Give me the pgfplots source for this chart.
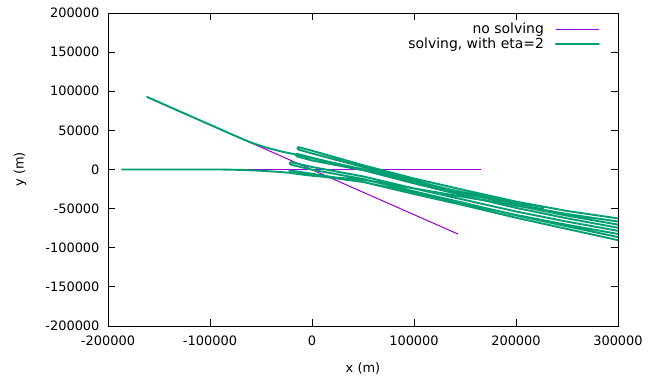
\documentclass[border=0pt]{standalone}
\usepackage{pgfplots}
\pgfplotsset{compat=1.18}
\usepackage{fontspec}
\setmainfont{DejaVu Sans}
\definecolor{gpPurple}{HTML}{9400D3}
\definecolor{gpGreen}{HTML}{009E73}
\begin{document}
\begin{tikzpicture}[font=\fontsize{13}{15}\selectfont]
\begin{axis}[
  name=ax,
  scale only axis,
  width=510bp, height=313bp,
  xmin=-200000, xmax=300000,
  ymin=-200000, ymax=200000,
  xtick={-200000,-100000,0,100000,200000,300000},
  xticklabels={-200000,-100000,0,100000,200000,300000},
  ytick={-200000,-150000,-100000,-50000,0,50000,100000,150000,200000},
  yticklabels={-200000,-150000,-100000,-50000,0,50000,100000,150000,200000},
  xticklabel style={yshift=-6bp},
  yticklabel style={xshift=-5bp},
  scaled ticks=false,
  tick align=inside,
  major tick length=7bp,
  tick style={black, line width=0.8bp},
  axis line style={black, line width=0.9bp},
  xlabel={x (m)},
  ylabel={y (m)},
  xlabel style={at={(axis description cs:0.5,-0.134)}, anchor=center},
  ylabel style={at={(axis description cs:-0.1725,0.5)}, anchor=center},
  legend plot pos=right,
  legend cell align=right,
  legend image code/.code={\draw[#1] (0bp,0bp) -- (43bp,0bp);},
  legend style={draw=none, fill=none, at={(axis description cs:1,1)}, anchor=north east, xshift=-18bp, yshift=-8bp, inner sep=0pt, row sep=-1bp, font=\fontsize{14}{16}\selectfont},
]
% no solving
\addplot[gpPurple, line width=1bp] coordinates {(-186300,0) (165700,0)};
\addlegendentry{no solving\rule{9bp}{0pt}}
\addplot[gpPurple, line width=1bp, forget plot] coordinates {(-161800,92700) (143100,-82500)};
% solving, object A
\addplot[gpGreen, line width=1.9bp, line join=round, line cap=round] coordinates {
(-161800,92700) (-120000,68700) (-80000,45700) (-60000,34500) (-45000,28000) (-30000,23000) (-15000,18900)
(0,14720) (50000,128) (100000,-15802) (150000,-30917) (200000,-45070) (250000,-56903) (300000,-66475)
(325000,-71000)
(300000,-62500) (250000,-53000) (200000,-41000) (150000,-26500) (100000,-11500) (50000,5500) (0,24000)
(-11000,27850) (-13400,28600) (-14400,27100) (-13400,25600) (-11000,24600)
(0,20480) (50000,3157) (100000,-14211) (150000,-30539) (200000,-45819) (250000,-58981) (300000,-70451)
(325000,-77000)
(300000,-74426) (250000,-62418) (200000,-49041) (150000,-33732) (100000,-17753) (50000,-815) (0,15040)
(-12500,19200) (-14900,20100) (-16000,18500) (-14900,16900) (-12500,16000)
(0,11520) (50000,-957) (100000,-15591) (150000,-29603) (200000,-42543) (227000,-48150)
};
\addlegendentry{solving, with eta=2\rule{9bp}{0pt}}
% solving, object B
\addplot[gpGreen, line width=1.9bp, line join=round, line cap=round, forget plot] coordinates {
(-186300,0) (-140000,0) (-90000,0) (-70000,-500) (-50000,-1600) (-30000,-3300) (-15000,-5000)
(0,-7360) (50000,-15957) (100000,-30109) (150000,-43779) (200000,-58017) (250000,-70668) (300000,-82349)
(325000,-86000)
(300000,-78374) (250000,-66612) (200000,-53663) (150000,-38954) (100000,-24221) (50000,-8783) (0,3200)
(-18500,8800) (-20800,9500) (-21900,7900) (-20800,6300) (-18500,5500)
(0,-320) (50000,-12129) (100000,-27931) (150000,-42993) (200000,-58484) (250000,-72591) (300000,-86325)
(325000,-94000)
(300000,-90300) (250000,-75990) (200000,-61634) (150000,-46084) (100000,-31327) (50000,-15899) (0,-5440)
(-18500,-1800) (-21400,-1200) (-22500,-2800) (-21400,-4400) (-18500,-5000)
(0,-8000) (50000,-12954) (100000,-24164) (150000,-35307) (200000,-46137) (227000,-50607)
};
\end{axis}
\pgfresetboundingbox
\path (ax.south west) ++(-108bp,-55bp) coordinate (bbl);
\path (ax.north east) ++(52bp,13bp) coordinate (bbr);
\path (bbl) rectangle (bbr);
\end{tikzpicture}
\end{document}
